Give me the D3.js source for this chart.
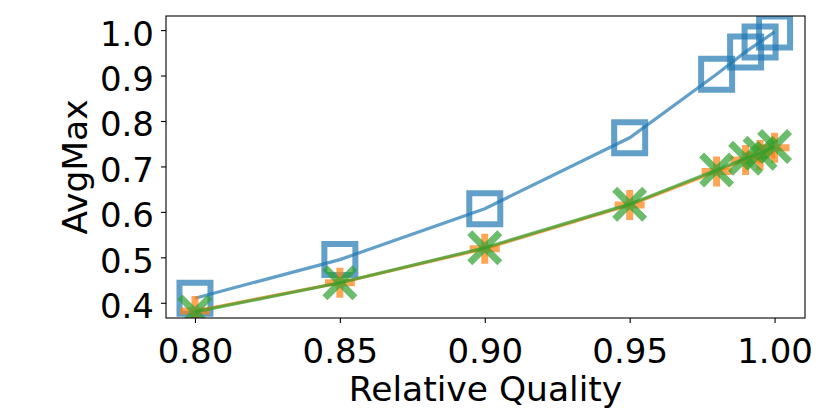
<!DOCTYPE html>
<meta charset="utf-8">
<html>
<head>
  <style>
    body { margin: 0; background: white; }
    .tick text { font: 34px "DejaVu Sans", sans-serif; fill: black; }
    .axis-title { font: 34.5px "DejaVu Sans", sans-serif; fill: black; }
  </style>
</head>
<body>
<svg width="830" height="415"></svg>

<script src="https://d3js.org/d3.v7.min.js"></script>
<script>

// Data
const quality = [0.80, 0.85, 0.90, 0.95, 0.98, 0.99, 0.995, 1.00];
const blueVals = [0.410, 0.495, 0.607, 0.763, 0.903, 0.952, 0.974, 0.996];
const orangeVals = [0.382, 0.444, 0.519, 0.615, 0.689, 0.714, 0.725, 0.741];
const greenVals = [0.380, 0.444, 0.521, 0.617, 0.692, 0.718, 0.729, 0.744];
const xTicks = [0.80, 0.85, 0.90, 0.95, 1.00];
const yTicks = [0.4, 0.5, 0.6, 0.7, 0.8, 0.9, 1.0];

const svg = d3.select("svg");

// Plot area
const plotLeft = 166, plotRight = 805, plotTop = 16, plotBottom = 318;

const x = d3.scaleLinear().domain([0.79, 1.0105]).range([plotLeft, plotRight]);
const y = d3.scaleLinear().domain([0.3665, 1.031]).range([plotBottom, plotTop]);

svg.append("clipPath").attr("id", "plot-clip")
  .append("rect")
  .attr("x", plotLeft).attr("y", plotTop)
  .attr("width", plotRight - plotLeft).attr("height", plotBottom - plotTop);

const plot = svg.append("g").attr("clip-path", "url(#plot-clip)");

const line = d3.line()
  .x(d => x(d[0]))
  .y(d => y(d[1]));

const series = [
  { vals: blueVals, color: "#1f77b4", marker: "square" },
  { vals: orangeVals, color: "#ff7f0e", marker: "plus" },
  { vals: greenVals, color: "#2ca02c", marker: "cross" }
];

function markerPath(type) {
  if (type === "square") {
    const h = 15.5;
    return `M${-h},${-h}H${h}V${h}H${-h}Z`;
  }
  if (type === "plus") {
    const h = 15;
    return `M${-h},0H${h}M0,${-h}V${h}`;
  }
  const h = 15;
  return `M${-h},${-h}L${h},${h}M${-h},${h}L${h},${-h}`;
}

series.forEach(s => {
  const pts = quality.map((q, i) => [q, s.vals[i]]);

  plot.append("path")
    .datum(pts)
    .attr("d", line)
    .attr("fill", "none")
    .attr("stroke", s.color)
    .attr("stroke-opacity", 0.7)
    .attr("stroke-width", 3.2);

  plot.selectAll(null)
    .data(pts)
    .join("path")
    .attr("transform", d => `translate(${x(d[0])},${y(d[1])})`)
    .attr("d", markerPath(s.marker))
    .attr("fill", "none")
    .attr("stroke", s.color)
    .attr("stroke-opacity", 0.7)
    .attr("stroke-width", s.marker === "square" ? 6 : 7);
});

// Axes
const xAxis = svg.append("g")
  .attr("transform", `translate(0,${plotBottom})`)
  .call(d3.axisBottom(x).tickValues(xTicks).tickFormat(d3.format(".2f")).tickSize(5));

const yAxis = svg.append("g")
  .attr("transform", `translate(${plotLeft},0)`)
  .call(d3.axisLeft(y).tickValues(yTicks).tickFormat(d3.format(".1f")).tickSize(5).tickPadding(7));

[xAxis, yAxis].forEach(a => {
  a.select(".domain").remove();
  a.selectAll(".tick line").attr("stroke", "black").attr("stroke-width", 1.1);
});
xAxis.selectAll(".tick text").attr("y", 45).attr("dy", 0);
yAxis.selectAll(".tick text").attr("dy", "0.44em");

// Frame
svg.append("rect")
  .attr("x", plotLeft).attr("y", plotTop)
  .attr("width", plotRight - plotLeft).attr("height", plotBottom - plotTop)
  .attr("fill", "none")
  .attr("stroke", "black")
  .attr("stroke-width", 1.1);

// Axis titles
svg.append("text")
  .attr("class", "axis-title")
  .attr("x", (plotLeft + plotRight) / 2)
  .attr("y", 400.5)
  .attr("text-anchor", "middle")
  .text("Relative Quality");

svg.append("text")
  .attr("class", "axis-title")
  .attr("transform", `translate(87,${(plotTop + plotBottom) / 2}) rotate(-90)`)
  .attr("text-anchor", "middle")
  .text("AvgMax");

</script>
</body>
</html>
